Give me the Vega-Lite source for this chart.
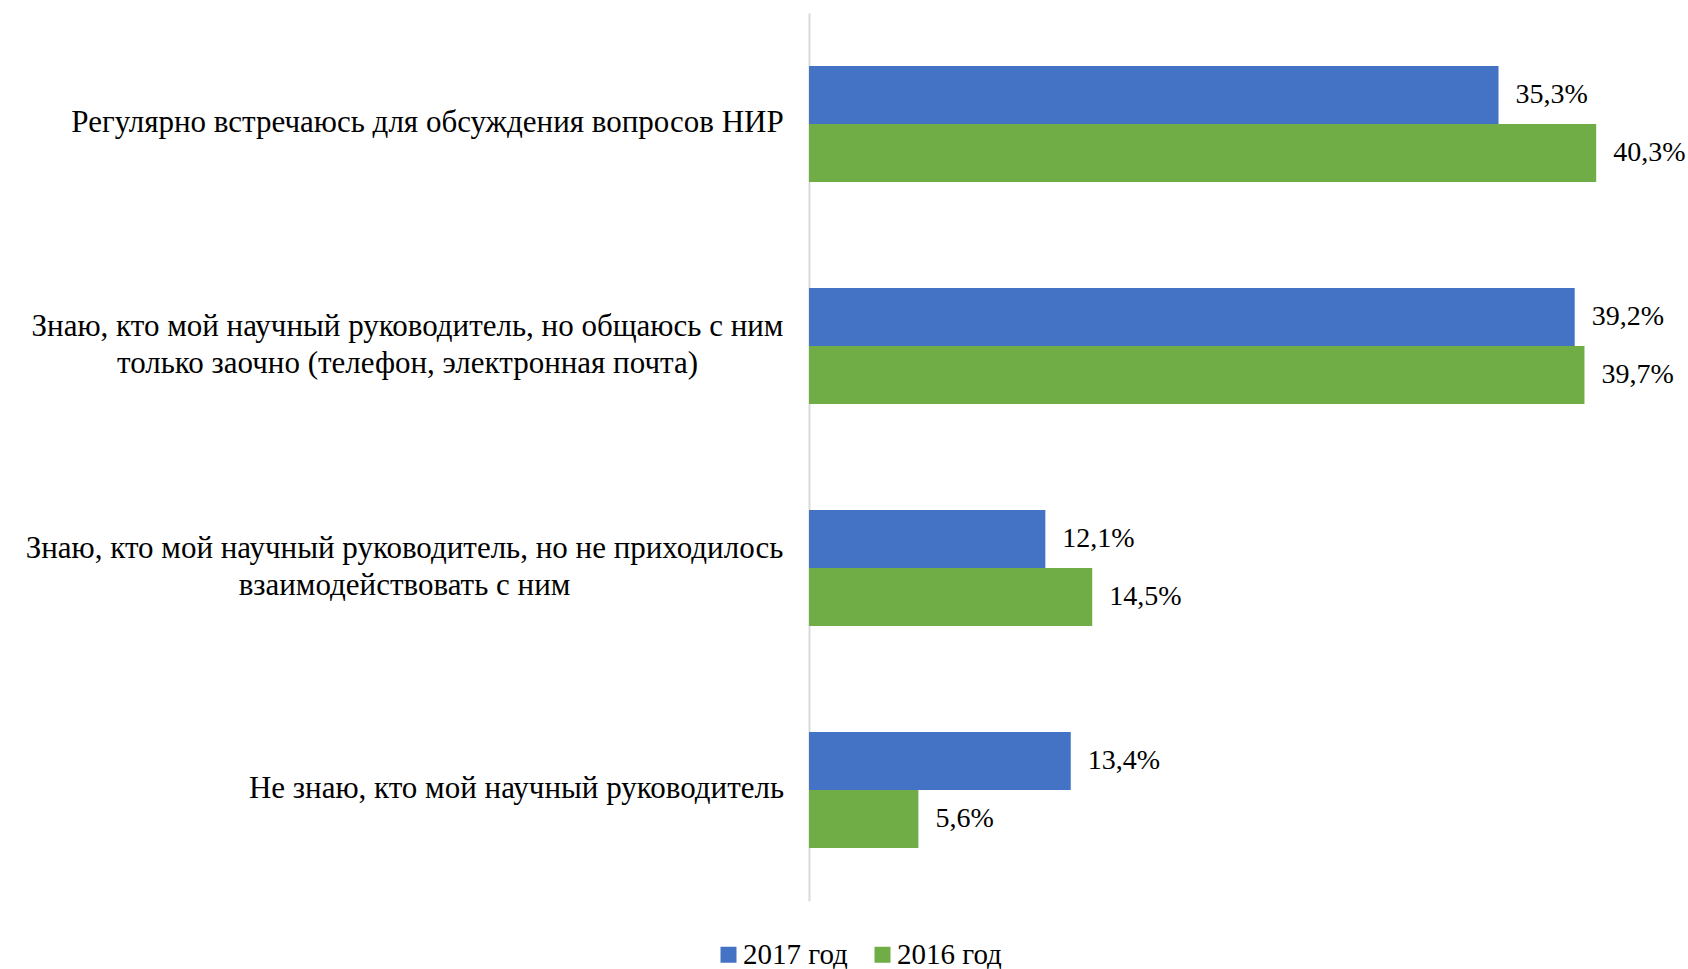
{
  "$schema": "https://vega.github.io/schema/vega-lite/v6.json",
  "autosize": {"type": "none"},
  "padding": {"left": 809, "top": 13, "right": 0, "bottom": 68},
  "width": 879,
  "height": 888,
  "background": "white",
  "config": {
    "view": {"stroke": null},
    "font": "Liberation Serif",
    "locale": {"number": {"decimal": ",", "thousands": " ", "grouping": [3], "currency": ["", " ₽"]}}
  },
  "data": {
    "values": [
      {"category": "Регулярно встречаюсь для обсуждения вопросов НИР", "year": "2017 год", "value": 0.353},
      {"category": "Регулярно встречаюсь для обсуждения вопросов НИР", "year": "2016 год", "value": 0.403},
      {"category": "Знаю, кто мой научный руководитель, но общаюсь с ним\nтолько заочно (телефон, электронная почта)", "year": "2017 год", "value": 0.392},
      {"category": "Знаю, кто мой научный руководитель, но общаюсь с ним\nтолько заочно (телефон, электронная почта)", "year": "2016 год", "value": 0.397},
      {"category": "Знаю, кто мой научный руководитель, но не приходилось\nвзаимодействовать с ним", "year": "2017 год", "value": 0.121},
      {"category": "Знаю, кто мой научный руководитель, но не приходилось\nвзаимодействовать с ним", "year": "2016 год", "value": 0.145},
      {"category": "Не знаю, кто мой научный руководитель", "year": "2017 год", "value": 0.134},
      {"category": "Не знаю, кто мой научный руководитель", "year": "2016 год", "value": 0.056}
    ]
  },
  "encoding": {
    "y": {
      "field": "category",
      "type": "nominal",
      "sort": null,
      "title": null,
      "scale": {"paddingInner": 0.477, "paddingOuter": 0.2385},
      "axis": {
        "ticks": false,
        "domainColor": "#d9d9d9",
        "domainWidth": 2,
        "labelFontSize": 31,
        "labelColor": "#000000",
        "labelLimit": 1000,
        "labelLineHeight": 37,
        "labelAlign": "center",
        "labelBaseline": "middle",
        "labelExpr": "split(datum.label, '\\n')",
        "labelOffset": {
          "condition": {"test": "indexof(datum.value, '\\n') >= 0", "value": -19},
          "value": -1
        },
        "labelPadding": {
          "condition": [
            {"test": "indexof(datum.value, 'Регулярно') == 0", "value": 382},
            {"test": "indexof(datum.value, 'общаюсь') >= 0", "value": 402},
            {"test": "indexof(datum.value, 'приходилось') >= 0", "value": 405}
          ],
          "value": 293
        }
      }
    },
    "yOffset": {"field": "year", "type": "nominal", "sort": ["2017 год", "2016 год"], "scale": {"paddingInner": 0, "paddingOuter": 0}},
    "x": {"field": "value", "type": "quantitative", "scale": {"domain": [0, 0.45]}, "axis": null}
  },
  "layer": [
    {
      "mark": {"type": "bar"},
      "encoding": {
        "color": {
          "field": "year",
          "type": "nominal",
          "sort": ["2017 год", "2016 год"],
          "scale": {"domain": ["2017 год", "2016 год"], "range": ["#4472C4", "#70AD47"]},
          "legend": {
            "orient": "none",
            "legendX": -95,
            "legendY": 927,
            "direction": "horizontal",
            "title": null,
            "symbolType": "square",
            "symbolSize": 256,
            "symbolStrokeWidth": 0,
            "labelFontSize": 29,
            "labelColor": "#000000",
            "labelOffset": 0,
            "columnPadding": 20,
            "labelLimit": 400
          }
        }
      }
    },
    {
      "mark": {"type": "text", "align": "left", "baseline": "middle", "dx": 17, "fontSize": 28, "color": "#000000"},
      "encoding": {
        "text": {"field": "value", "type": "quantitative", "format": ".1%"}
      }
    }
  ]
}
